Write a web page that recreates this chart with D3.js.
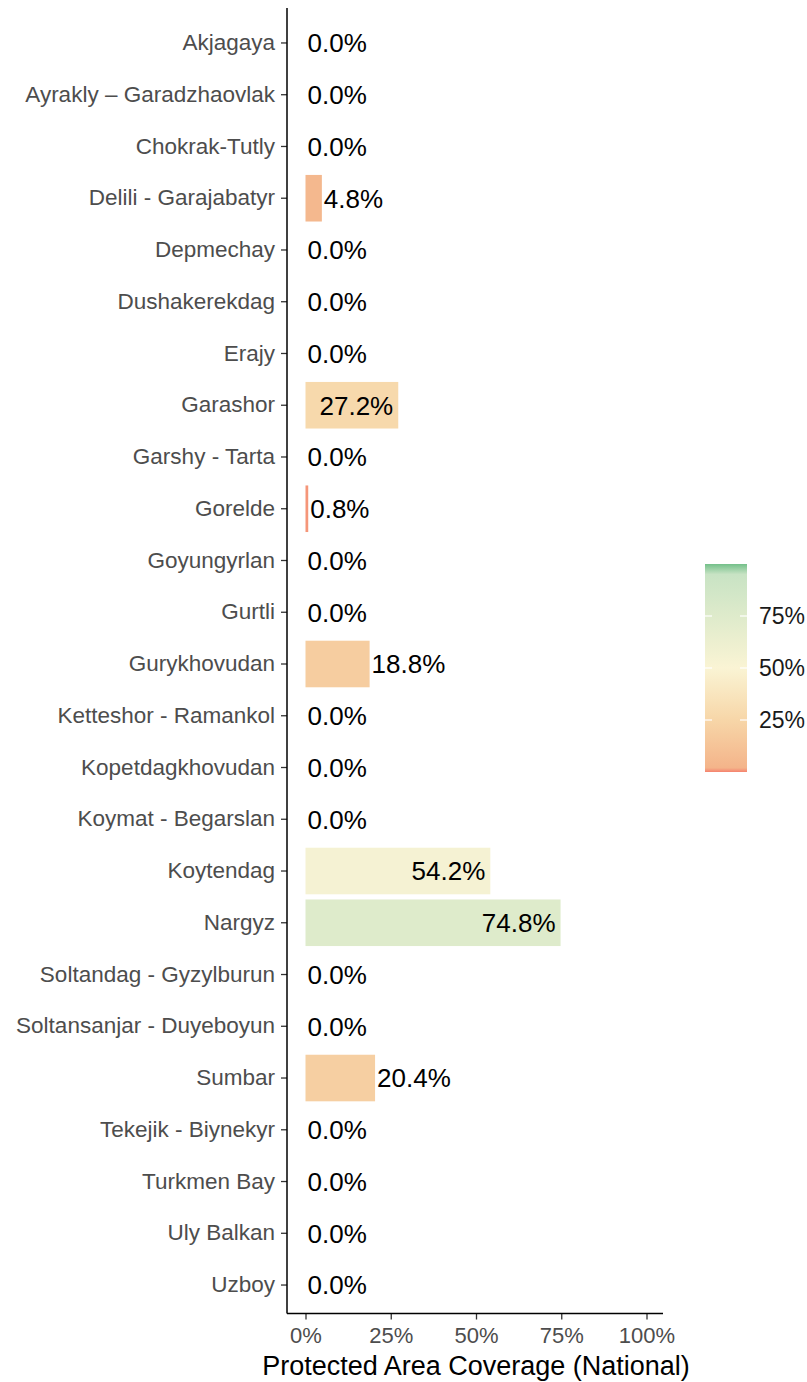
<!DOCTYPE html>
<html>
<head>
<meta charset="utf-8">
<script src="https://cdn.jsdelivr.net/npm/d3@7"></script>
<style>
  body { margin: 0; background: #fff; }
  text { font-family: "Liberation Sans", Arial, sans-serif; }
</style>
</head>
<body>
<div class="chart"></div>
<script>
const regions = ["Akjagaya", "Ayrakly – Garadzhaovlak", "Chokrak-Tutly", "Delili - Garajabatyr",
  "Depmechay", "Dushakerekdag", "Erajy", "Garashor", "Garshy - Tarta", "Gorelde", "Goyungyrlan",
  "Gurtli", "Gurykhovudan", "Ketteshor - Ramankol", "Kopetdagkhovudan", "Koymat - Begarslan",
  "Koytendag", "Nargyz", "Soltandag - Gyzylburun", "Soltansanjar - Duyeboyun", "Sumbar",
  "Tekejik - Biynekyr", "Turkmen Bay", "Uly Balkan", "Uzboy"];
const coverage = [0, 0, 0, 4.8, 0, 0, 0, 27.2, 0, 0.8, 0, 0, 18.8, 0, 0, 0,
  54.2, 74.8, 0, 0, 20.4, 0, 0, 0, 0];
const xTicks = [0, 25, 50, 75, 100];
const legendTicks = [25, 50, 75];

// fill gradient (red -> peach -> cream -> green)
const colorStops = [0, 2, 25, 50, 95, 100];
const colorValues = ["#f5826e", "#f4b48a", "#f7d6a8", "#faf4d4", "#c8e3c4", "#74c08a"];

const width = 807, height = 1382;
const svg = d3.select(".chart").append("svg")
  .attr("width", width).attr("height", height);

const x = d3.scaleLinear().domain([0, 100]).range([305.5, 646.5]);
const y = d3.scaleBand().domain(regions).range([14.5, 1313.5])
  .paddingInner(0.1).paddingOuter(0.1);
const fill = d3.scaleLinear().domain(colorStops).range(colorValues);

const data = regions.map((r, i) => ({ region: r, value: coverage[i] }));

// bars
svg.append("g").selectAll("rect")
  .data(data.filter(d => d.value > 0))
  .join("rect")
  .attr("x", x(0))
  .attr("y", d => y(d.region))
  .attr("width", d => Math.max(1, x(d.value) - x(0)))
  .attr("height", y.bandwidth())
  .attr("fill", d => fill(d.value));

// value labels
svg.append("g").selectAll("text")
  .data(data)
  .join("text")
  .attr("x", d => d.value > 25 ? x(d.value) - 5 : x(d.value) + 2)
  .attr("y", d => y(d.region) + y.bandwidth() / 2)
  .attr("dy", "0.36em")
  .attr("text-anchor", d => d.value > 25 ? "end" : "start")
  .attr("font-size", 26)
  .attr("fill", "#000")
  .text(d => d.value.toFixed(1) + "%");

// y axis
const yAxis = svg.append("g")
  .attr("transform", "translate(287,0)")
  .call(d3.axisLeft(y).tickSize(6).tickPadding(6));
yAxis.select(".domain").remove();
yAxis.selectAll("text").attr("font-size", 22.5).attr("fill", "#4d4d4d")
  .style("font-family", "Liberation Sans, Arial, sans-serif");
yAxis.selectAll("line").attr("stroke", "#333").attr("stroke-width", 1.3);
svg.append("line").attr("x1", 287).attr("x2", 287).attr("y1", 8).attr("y2", 1313.5)
  .attr("stroke", "#000").attr("stroke-width", 1.5);

// x axis
const xAxis = svg.append("g")
  .attr("transform", "translate(0,1313.5)")
  .call(d3.axisBottom(x).tickValues(xTicks).tickSize(6).tickPadding(8)
    .tickFormat(d => d + "%"));
xAxis.select(".domain").remove();
xAxis.selectAll("text").attr("font-size", 22).attr("fill", "#4d4d4d")
  .style("font-family", "Liberation Sans, Arial, sans-serif");
xAxis.selectAll("line").attr("stroke", "#333").attr("stroke-width", 1.3);
svg.append("line").attr("x1", 287).attr("x2", 663).attr("y1", 1313.5).attr("y2", 1313.5)
  .attr("stroke", "#000").attr("stroke-width", 1.5);

svg.append("text")
  .attr("x", 476).attr("y", 1375)
  .attr("text-anchor", "middle")
  .attr("font-size", 27)
  .attr("fill", "#000")
  .text("Protected Area Coverage (National)");

// legend colour bar
const ly = d3.scaleLinear().domain([0, 100]).range([772, 564]);
const grad = svg.append("defs").append("linearGradient")
  .attr("id", "legendGrad")
  .attr("x1", 0).attr("x2", 0).attr("y1", 1).attr("y2", 0);
grad.selectAll("stop")
  .data(colorStops)
  .join("stop")
  .attr("offset", d => d + "%")
  .attr("stop-color", d => fill(d));

svg.append("rect")
  .attr("x", 705).attr("y", ly(100))
  .attr("width", 42).attr("height", ly(0) - ly(100))
  .attr("fill", "url(#legendGrad)");

const lt = svg.append("g").selectAll("g").data(legendTicks).join("g");
lt.append("line").attr("x1", 705).attr("x2", 712)
  .attr("y1", d => ly(d)).attr("y2", d => ly(d))
  .attr("stroke", "#fff").attr("stroke-width", 1.2);
lt.append("line").attr("x1", 740).attr("x2", 747)
  .attr("y1", d => ly(d)).attr("y2", d => ly(d))
  .attr("stroke", "#fff").attr("stroke-width", 1.2);
lt.append("text")
  .attr("x", 759).attr("y", d => ly(d)).attr("dy", "0.36em")
  .attr("font-size", 23).attr("fill", "#1a1a1a")
  .text(d => d + "%");
</script>
</body>
</html>
